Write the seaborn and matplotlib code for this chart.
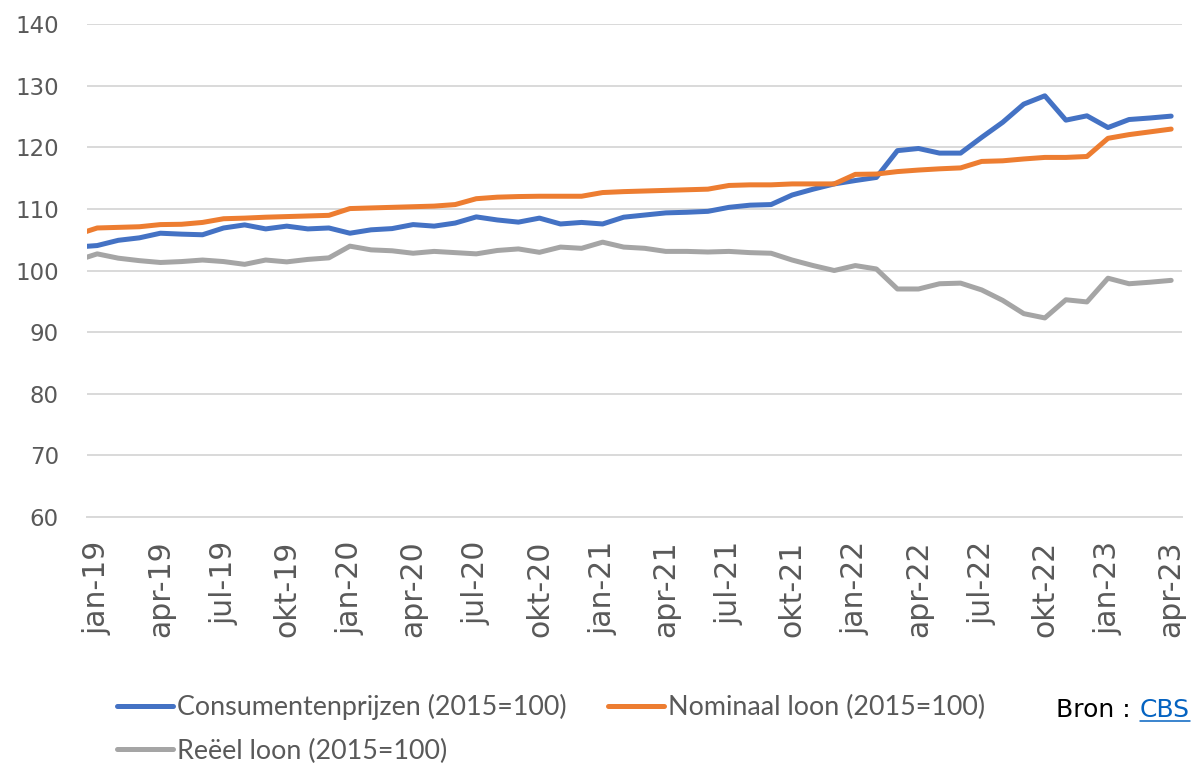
import numpy as np
import pandas as pd
import matplotlib
matplotlib.use('Agg')
import matplotlib.pyplot as plt
import seaborn as sns
from matplotlib.lines import Line2D

# maandindex: -1 = dec-18 (valt net buiten de as), 0 = jan-19 ... 51 = apr-23
maand_idx = list(range(-1, 52))

consumentenprijzen = [103.8,
    104.05, 104.9, 105.3, 106.05, 105.9, 105.8, 106.9, 107.4, 106.75, 107.2, 106.75, 106.9,
    106.05, 106.6, 106.8, 107.45, 107.2, 107.7, 108.7, 108.2, 107.85, 108.5, 107.55, 107.8,
    107.55, 108.65, 109.0, 109.35, 109.45, 109.6, 110.25, 110.6, 110.7, 112.25, 113.2, 114.05,
    114.6, 115.1, 119.45, 119.8, 119.05, 119.05, 121.6, 124.05, 127.0, 128.35, 124.4, 125.1,
    123.2, 124.5, 124.75, 125.05]

nominaal_loon = [105.8,
    106.9, 107.0, 107.1, 107.45, 107.5, 107.8, 108.4, 108.5, 108.65, 108.75, 108.85, 108.95,
    110.05, 110.15, 110.25, 110.35, 110.45, 110.7, 111.65, 111.9, 112.0, 112.05, 112.05, 112.05,
    112.65, 112.8, 112.9, 113.0, 113.1, 113.2, 113.8, 113.9, 113.9, 114.05, 114.05, 114.05,
    115.6, 115.65, 116.05, 116.3, 116.5, 116.65, 117.7, 117.8, 118.1, 118.35, 118.35, 118.5,
    121.45, 122.05, 122.5, 122.95]

reeel_loon = [101.6,
    102.7, 102.0, 101.6, 101.3, 101.45, 101.7, 101.45, 101.0, 101.7, 101.4, 101.8, 102.05,
    103.95, 103.35, 103.2, 102.8, 103.1, 102.9, 102.7, 103.25, 103.5, 102.95, 103.8, 103.6,
    104.6, 103.8, 103.6, 103.1, 103.1, 103.0, 103.1, 102.9, 102.8, 101.7, 100.8, 100.0,
    100.8, 100.25, 97.0, 97.0, 97.85, 97.95, 96.85, 95.15, 93.0, 92.3, 95.25, 94.9,
    98.75, 97.85, 98.1, 98.4]

tick_labels = ['jan-19', 'apr-19', 'jul-19', 'okt-19', 'jan-20', 'apr-20', 'jul-20', 'okt-20',
               'jan-21', 'apr-21', 'jul-21', 'okt-21', 'jan-22', 'apr-22', 'jul-22', 'okt-22',
               'jan-23', 'apr-23']

reeksen = ['Consumentenprijzen (2015=100)', 'Nominaal loon (2015=100)', 'Reëel loon (2015=100)']
kleuren = ['#4472C4', '#ED7D31', '#A5A5A5']

df = pd.concat([
    pd.DataFrame({'maand': maand_idx, 'waarde': consumentenprijzen, 'reeks': reeksen[0]}),
    pd.DataFrame({'maand': maand_idx, 'waarde': nominaal_loon, 'reeks': reeksen[1]}),
    pd.DataFrame({'maand': maand_idx, 'waarde': reeel_loon, 'reeks': reeksen[2]}),
])

sns.set_style('white')
plt.rcParams['font.family'] = ['DejaVu Sans']

fig = plt.figure(figsize=(11.93, 7.66), dpi=100)
ax = fig.add_axes([86.7 / 1193, 1 - 517 / 766, (1181.7 - 86.7) / 1193, (517 - 24) / 766])

sns.lineplot(data=df, x='maand', y='waarde', hue='reeks', hue_order=reeksen,
             palette=kleuren, linewidth=3.6, legend=False, ax=ax,
             solid_capstyle='round', solid_joinstyle='round')

ax.set_xlim(-0.5, 51.5)
ax.set_ylim(60, 140)
ax.set_yticks(range(60, 141, 10))
ax.set_xticks(np.arange(0, 52, 3))
ax.set_xticklabels(tick_labels, rotation=90)
ax.set_xticks(np.arange(-0.5, 52, 3), minor=True)
ax.set_xlabel('')
ax.set_ylabel('')

ax.yaxis.grid(True, color='#D9D9D9', linewidth=1.4)
ax.set_axisbelow(True)
for s in ['top', 'right', 'left']:
    ax.spines[s].set_visible(False)
ax.spines['bottom'].set_color('#D9D9D9')
ax.spines['bottom'].set_linewidth(1.4)

ax.tick_params(axis='y', length=0, pad=20, labelsize=16.5, labelcolor='#595959')
ax.tick_params(axis='x', which='major', length=0, pad=17, labelsize=21.5, labelcolor='#595959')
ax.tick_params(axis='x', which='minor', length=7.5, width=1.4, color='#D9D9D9')

# legenda onder de grafiek
handles = [Line2D([], [], color=kleuren[0], lw=3.6, solid_capstyle='round'),
           Line2D([], [], color=kleuren[2], lw=3.6, solid_capstyle='round'),
           Line2D([], [], color=kleuren[1], lw=3.6, solid_capstyle='round')]
labels = [reeksen[0], reeksen[2], reeksen[1]]
leg = fig.legend(handles, labels, loc='upper left', bbox_to_anchor=(117 / 1193, 1 - 694 / 766),
                 ncol=2, frameon=False, borderaxespad=0, borderpad=0,
                 prop={'family': 'Lato', 'size': 19.4},
                 handlelength=2.08, handletextpad=0.13, columnspacing=1.56, labelspacing=0.69)
for t in leg.get_texts():
    t.set_color('#595959')

# bron
fig.canvas.draw()
r = fig.canvas.get_renderer()
cbs = fig.text(1190 / 1193, 1 - 717 / 766, 'CBS', ha='right', va='baseline',
               fontsize=18, color='#0563C1')
bb = cbs.get_window_extent(renderer=r)
fig.text(bb.x0 - 9, 766 - 717, 'Bron :', ha='right', va='baseline', fontsize=18,
         color='black', transform=None)
fig.add_artist(Line2D([bb.x0, bb.x1], [766 - 720.5, 766 - 720.5], color='#0563C1',
                      lw=1.1, transform=None))

fig.savefig('out.png', dpi=100)
